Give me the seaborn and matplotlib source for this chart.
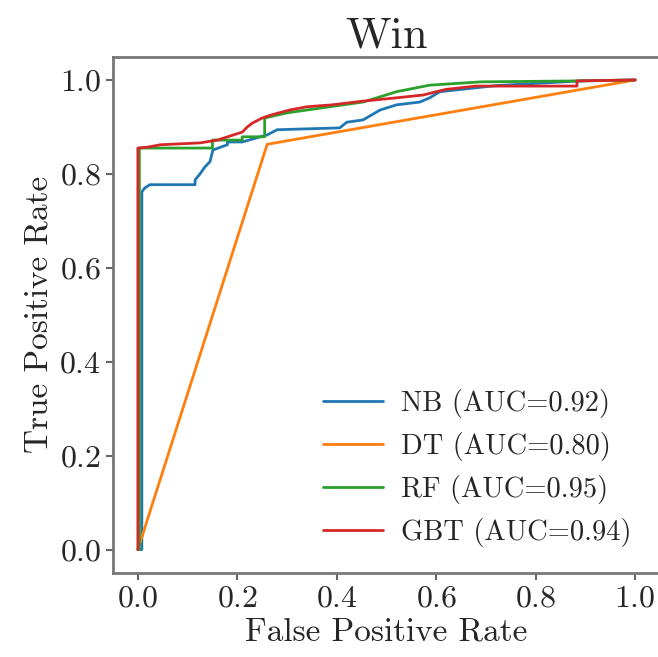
import matplotlib
matplotlib.use("Agg")
import matplotlib.pyplot as plt
import seaborn as sns
import pandas as pd

sns.set_style("ticks")
plt.rcParams["font.family"] = ["cmr10", "DejaVu Serif"]
plt.rcParams["axes.formatter.use_mathtext"] = True
plt.rcParams["axes.unicode_minus"] = False

# ROC curve vertices
nb_fpr = [0.0, 0.008, 0.008, 0.014, 0.024, 0.115, 0.115, 0.125, 0.135, 0.145, 0.151, 0.18, 0.18,
          0.21, 0.26, 0.28, 0.406, 0.42, 0.453, 0.487, 0.52, 0.567, 0.587, 0.607, 0.72, 0.89, 1.0]
nb_tpr = [0.0, 0.0, 0.762, 0.77, 0.777, 0.777, 0.787, 0.80, 0.815, 0.826, 0.851, 0.862, 0.868,
          0.868, 0.883, 0.894, 0.898, 0.91, 0.915, 0.936, 0.947, 0.953, 0.962, 0.975, 0.988, 0.998, 1.0]

dt_fpr = [0.0, 0.26, 1.0]
dt_tpr = [0.0, 0.863, 1.0]

rf_fpr = [0.0, 0.003, 0.003, 0.15, 0.15, 0.21, 0.21, 0.255, 0.255, 0.30, 0.386, 0.453, 0.52,
          0.587, 0.69, 0.883, 1.0]
rf_tpr = [0.0, 0.0, 0.855, 0.855, 0.872, 0.872, 0.879, 0.879, 0.919, 0.93, 0.943, 0.953, 0.975,
          0.989, 0.996, 0.998, 1.0]

gbt_fpr = [0.0, 0.0, 0.02, 0.045, 0.125, 0.16, 0.21, 0.22, 0.23, 0.25, 0.27, 0.305, 0.34, 0.39,
           0.453, 0.52, 0.574, 0.60, 0.62, 0.68, 0.883, 0.883, 1.0]
gbt_tpr = [0.0, 0.855, 0.857, 0.862, 0.866, 0.872, 0.889, 0.90, 0.908, 0.919, 0.926, 0.936, 0.943,
           0.947, 0.955, 0.962, 0.968, 0.975, 0.98, 0.987, 0.987, 0.998, 1.0]

models = ["NB", "DT", "RF", "GBT"]
aucs = [0.92, 0.80, 0.95, 0.94]
colors = ["#1f77b4", "#ff7f0e", "#2ca02c", "#d62728"]

curves = [(nb_fpr, nb_tpr), (dt_fpr, dt_tpr), (rf_fpr, rf_tpr), (gbt_fpr, gbt_tpr)]

fig = plt.figure(figsize=(6.58, 6.57), dpi=100)
ax = fig.add_axes([113 / 658, 1 - 573 / 657, 547 / 658, 516.5 / 657])

for name, auc, col, (fpr, tpr) in zip(models, aucs, colors, curves):
    df = pd.DataFrame({"fpr": fpr, "tpr": tpr})
    sns.lineplot(data=df, x="fpr", y="tpr", sort=False, estimator=None, color=col,
                 linewidth=2.0, label=f"{name} (AUC={auc:.2f})", ax=ax)

ax.set_xlim(-0.05, 1.05)
ax.set_ylim(-0.05, 1.05)
ax.set_xticks([0.0, 0.2, 0.4, 0.6, 0.8, 1.0])
ax.set_yticks([0.0, 0.2, 0.4, 0.6, 0.8, 1.0])
ax.tick_params(labelsize=23, length=5, width=1.5, color="#666666")
for s in ax.spines.values():
    s.set_color("#777777")
    s.set_linewidth(2)
ax.set_xlabel("False Positive Rate", fontsize=24)
ax.set_ylabel("True Positive Rate", fontsize=24)
ax.set_title("Win", fontsize=32)
ax.legend(loc="lower right", frameon=False, fontsize=20.5, handlelength=2.1,
          handletextpad=0.65, bbox_to_anchor=(0.995, 0.0))

fig.savefig("out.png", dpi=100)
